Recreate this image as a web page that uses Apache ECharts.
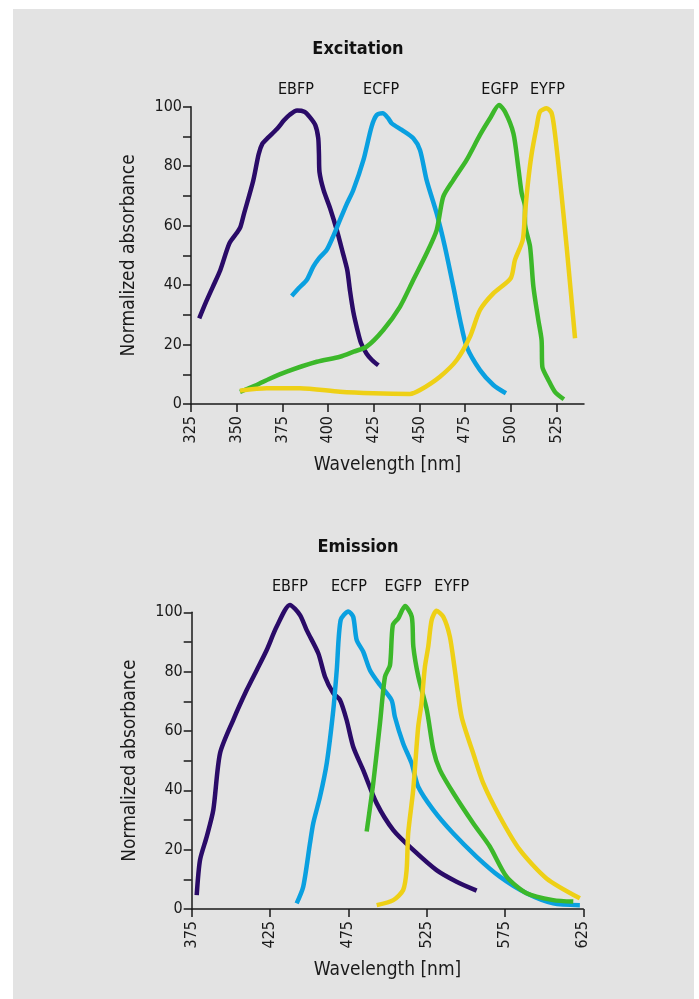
<!DOCTYPE html>
<html>
<head>
<meta charset="utf-8">
<script src="https://cdn.jsdelivr.net/npm/echarts@6/dist/echarts.min.js"></script>
<style>
html,body{margin:0;padding:0;background:#fff;}
#c{width:699px;height:999px;}
</style>
</head>
<body>
<div id="c"></div>
<script>
// ---------- Data ----------
const seriesNames = ['EBFP', 'ECFP', 'EGFP', 'EYFP'];
const seriesColors = ['#2a0b68', '#0aa0e0', '#3cb82a', '#eed016'];

const excTicks = [325, 350, 375, 400, 425, 450, 475, 500, 525];
const emTicks = [375, 425, 475, 525, 575, 625];
const yLabels = [0, 20, 40, 60, 80, 100];

// Excitation spectra [wavelength nm, normalized value]
const excEBFP = [[329.5,28.8],[333,34],[337,39.5],[341,45],[346,54],[350,57.5],[352,59.5],[354,64],[359,75],[362,84],[364,87.5],[367,89.5],[372,92.5],[376,95.5],[379,97.3],[383,98.7],[387,98.3],[390,96.5],[393,93.8],[394.6,89.5],[395,84],[395.3,78],[397.5,72],[401,66],[405,58],[408,51],[410.5,45],[412,38],[413.8,31],[416,25],[418,20.5],[421,17],[424,14.8],[427.5,13]];
const excECFP = [[380.1,36.3],[384,39],[388.3,41.7],[391.9,46.2],[395,49],[399.2,51.8],[402.5,56],[406.5,61.9],[410,67],[413.8,72],[419.3,82],[423.8,93.3],[426.6,97.2],[429.9,97.8],[432.9,96.1],[434.8,94.4],[440.3,92.2],[446.6,89.4],[450.3,85.4],[453.9,75.3],[459.4,64.1],[463.9,52.9],[468.5,39.5],[472.2,28.3],[475.8,19.3],[483.1,11.4],[490.4,6.4],[497.3,3.6]];
const excEGFP = [[351.8,4.1],[360.9,6.4],[368,8.5],[377.4,10.9],[393.8,14.2],[406.5,15.9],[414,17.6],[421.1,19.3],[430.2,24.9],[439.3,32.7],[446.6,41.7],[453.9,50.7],[459.4,58.5],[463,69.7],[468.5,75.3],[475.8,82.1],[483.1,90.5],[488.6,96.1],[493.5,100.6],[496.8,98.3],[501.4,91],[504,79.8],[505.9,70.9],[507.7,66.4],[507.7,60.8],[510.5,52.9],[512.3,39.5],[515,28.3],[516.8,21.5],[517.2,12.5],[520.5,8.1],[524.1,4.1],[529,1.6]];
const excEYFP = [[351.8,4.5],[366.4,5.3],[384.6,5.3],[406.5,4.1],[424.7,3.6],[444.8,3.4],[450.3,4.7],[461.2,9.2],[470.4,14.8],[477.6,22.6],[483.1,31.6],[490.4,37.2],[499.9,42.3],[502.2,48.4],[506.5,55.2],[507.7,64.1],[509.5,75.3],[511.4,84.3],[514.1,93.3],[515.9,98.3],[519.6,99.5],[522.3,97.8],[524.1,91],[526.9,75.3],[530.5,52.9],[535.1,22.1]];

// Emission spectra
const emEBFP = [[378.2,4.7],[380.3,16.5],[384.6,24.4],[388.8,33.4],[393.1,52.5],[401.5,63.7],[410.1,73.8],[416.5,80.5],[422.9,87.3],[429.2,95.1],[437.7,102.5],[444.1,99.1],[448.4,94],[455.8,86.2],[460.1,78.3],[465.4,72.7],[469.6,70.5],[473.9,63.7],[478.1,54.7],[484.5,46.8],[493.1,35.6],[503.7,26.6],[516.4,19.9],[531.3,13.1],[544.1,9.2],[556.9,6.2]];
const emECFP = [[442,1.9],[446.2,7.5],[450.5,22.1],[452.6,28.9],[456.9,37.8],[461.2,49.1],[465.4,67.1],[467.6,80.5],[470.1,97.4],[475,100.3],[478.1,98.5],[480.3,90.7],[484.5,86.7],[488.8,80.5],[495.2,75.5],[502.6,70.4],[504.7,64.8],[510,55.8],[515.4,49.1],[519.6,41.2],[529.2,33.4],[541.9,25.5],[556.9,17.6],[571.7,10.9],[588.8,5.3],[605.8,1.9],[622.8,1.3]];
const emEGFP = [[486.7,26.1],[490.9,42.4],[495.2,62.6],[498.4,78.3],[501.6,82.2],[503.4,95.7],[506.9,98],[511.2,102.1],[515.5,98.5],[516.5,88.4],[519.7,78.3],[525.1,67.1],[529.3,53.6],[533.5,46.8],[542.1,39],[554.7,28.9],[565.4,21],[576,10.9],[588.8,5.3],[605.8,3],[618.6,2.5]];
const emEYFP = [[493.1,1.3],[503.7,3],[510,6.4],[512.2,13.1],[513.2,25.5],[516.4,40.1],[519.6,61.4],[521.7,69.3],[523.9,81.7],[526,88.4],[528.2,97.4],[531.3,100.5],[535.6,98.5],[539.8,91.8],[543,80.5],[547.3,64.8],[554.7,52.5],[561.1,42.4],[571.7,31.1],[584.5,19.9],[601.5,10.3],[622.8,3.6]];

// Label anchor positions [nm, value] for the series names
const excLabelPos = [[382.4,105.6],[429,105.6],[494,105.6],[520,105.6]];
const emLabelPos = [[437.7,108.5],[475.4,108.5],[510,108.5],[541,108.5]];

// ---------- Chart ----------
const FONT = "'Liberation Sans Narrow','DejaVu Sans Condensed','Liberation Sans',sans-serif";
const chart = echarts.init(document.getElementById('c'), null, {renderer: 'canvas'});

function xAxisCfg(gridIndex, min, max, interval, ticks) {
  return {
    type: 'value', gridIndex, min, max, interval,
    name: 'Wavelength [nm]', nameLocation: 'middle', nameGap: 52,
    nameTextStyle: {fontFamily: FONT, fontSize: 19, color: '#1a1a1a'},
    axisLine: {show: true, onZero: false, lineStyle: {color: '#1a1a1a', width: 1.5}},
    axisTick: {show: true, length: 8, customValues: ticks, lineStyle: {color: '#1a1a1a', width: 1.5}},
    axisLabel: {rotate: 90, margin: 12, customValues: ticks, fontFamily: FONT, fontSize: 16, color: '#1a1a1a'},
    splitLine: {show: false}
  };
}
function yAxisCfg(gridIndex) {
  return {
    type: 'value', gridIndex, min: 0, max: 100, interval: 10,
    name: 'Normalized absorbance', nameLocation: 'middle', nameGap: 52,
    nameTextStyle: {fontFamily: FONT, fontSize: 19, color: '#1a1a1a'},
    axisLine: {show: true, onZero: false, lineStyle: {color: '#1a1a1a', width: 1.5}},
    axisTick: {show: true, length: 8, lineStyle: {color: '#1a1a1a', width: 1.5}},
    axisLabel: {margin: 9, customValues: yLabels, fontFamily: FONT, fontSize: 16, color: '#1a1a1a'},
    splitLine: {show: false}
  };
}

const excData = [excEBFP, excECFP, excEGFP, excEYFP];
const emData = [emEBFP, emECFP, emEGFP, emEYFP];

function makeSeries(dataArr, axisIdx) {
  return dataArr.map((d, i) => ({
    type: 'line', name: seriesNames[i], xAxisIndex: axisIdx, yAxisIndex: axisIdx,
    data: d, showSymbol: false, symbol: 'none', smooth: 0.25, clip: false,
    lineStyle: {color: seriesColors[i], width: 4.5, cap: 'butt', join: 'round'},
    itemStyle: {color: seriesColors[i]},
    z: 2 + i
  }));
}
function makeLabels(labelPos, axisIdx) {
  return {
    type: 'scatter', xAxisIndex: axisIdx, yAxisIndex: axisIdx, silent: true, clip: false,
    symbolSize: 1, itemStyle: {color: '#e3e3e3', opacity: 1},
    data: labelPos.map((p, i) => ({value: p, name: seriesNames[i]})),
    label: {show: true, position: 'inside', formatter: p => p.name, fontFamily: FONT, fontSize: 16,
            color: '#111111', opacity: 1, textBorderWidth: 0, textBorderColor: 'transparent'},
    z: 10
  };
}

chart.setOption({
  backgroundColor: '#ffffff',
  animation: false,
  graphic: [{type: 'rect', z: -10, shape: {x: 13, y: 9, width: 681, height: 990}, style: {fill: '#e3e3e3'}}],
  title: [
    {text: 'Excitation', left: 353, top: 35, textAlign: 'center', textStyle: {fontFamily: FONT, fontSize: 18, fontWeight: 'bold', color: '#111'}},
    {text: 'Emission', left: 353, top: 533, textAlign: 'center', textStyle: {fontFamily: FONT, fontSize: 18, fontWeight: 'bold', color: '#111'}}
  ],
  grid: [
    {left: 191, top: 106.7, width: 393, height: 297.3, containLabel: false},
    {left: 191.7, top: 612.3, width: 391.6, height: 296.7, containLabel: false}
  ],
  xAxis: [xAxisCfg(0, 325, 540, 25, excTicks), xAxisCfg(1, 375, 625, 50, emTicks)],
  yAxis: [yAxisCfg(0), yAxisCfg(1)],
  series: [].concat(makeSeries(excData, 0), makeSeries(emData, 1), [makeLabels(excLabelPos, 0), makeLabels(emLabelPos, 1)])
});
</script>
</body>
</html>
